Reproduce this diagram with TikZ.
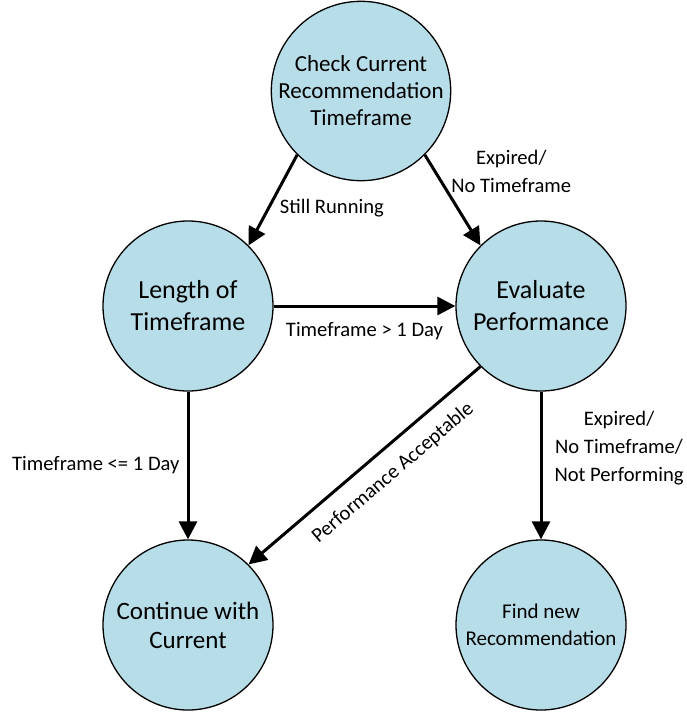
\documentclass[tikz,border=0pt]{standalone}
\usepackage{fontspec}
\setmainfont{Carlito}
\usetikzlibrary{arrows.meta}
\definecolor{stateblue}{RGB}{183,221,232}

\begin{document}
\begin{tikzpicture}[x=1pt, y=-1pt,
    state/.style={circle, draw=black, line width=1.3pt, fill=stateblue,
      minimum size=170pt, inner sep=0pt, align=center},
    trans/.style={line width=3pt, -{Triangle[length=18pt,width=18pt]}},
    lbl/.style={inner sep=0pt, align=center, font=\fontsize{20.6}{28}\selectfont}]
      \useasboundingbox (0,0) rectangle (686,712);

      \node[state, font=\fontsize{23}{27}\selectfont] (check) at (361, 91) {Check Current\\Recommendation\\Timeframe};
      \node[state, font=\fontsize{26}{32}\selectfont] (length) at (188, 306) {Length of\\Timeframe};
      \node[state, font=\fontsize{26}{32}\selectfont] (eval) at (541, 306) {Evaluate\\Performance};
      \node[state, font=\fontsize{25}{29}\selectfont] (cont) at (188, 625) {Continue with\\Current};
      \node[state, font=\fontsize{21}{27}\selectfont] (find) at (541, 625) {Find new\\Recommendation};

      \draw[trans] (check.-135) to node[lbl, pos=.59, right=10pt]{Still Running} (length.45);
      \draw[trans] (check.-45) to node[lbl, pos=.18, right=15pt]{Expired/\\No Timeframe} (eval.135);
      \draw[trans] (length) to node[lbl, midway, yshift=-25pt]{Timeframe > 1 Day} (eval);
      \draw[trans] (length) to node[lbl, midway, left=7pt]{Timeframe <= 1 Day} (cont);
      \draw[trans] (eval.-135) to node[lbl, pos=.445, sloped, below=14pt]{Performance Acceptable} (cont.45);
      \draw[trans] (eval) to node[lbl, pos=.385, right=12pt]{Expired/\\No Timeframe/\\Not Performing} (find);
    \end{tikzpicture}
\end{document}
